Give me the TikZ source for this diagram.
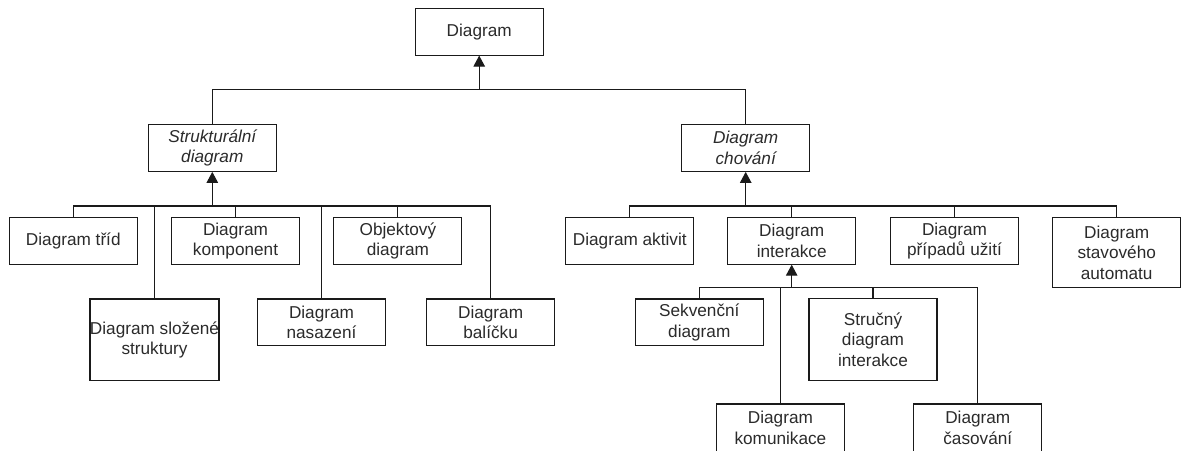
\documentclass[tikz,border=0pt]{standalone}
\usepackage{fontspec}
\setmainfont{Liberation Sans}
\usetikzlibrary{arrows.meta}
\definecolor{inkline}{HTML}{1A1A1A}
\definecolor{inktext}{HTML}{2B2B2B}
\begin{document}
\begin{tikzpicture}[x=1pt,y=-1pt,
  box/.style={draw=inkline,line width=1.1pt,fill=white,rectangle,
    minimum width=128pt,minimum height=46.7pt,inner sep=0pt,
    align=center,text=inktext,
    font=\fontsize{17.2}{20.4}\selectfont},
  tallbox/.style={box,minimum height=81.6pt},
  midbox/.style={box,minimum height=69.6pt},
  absbox/.style={box,font=\fontsize{17.2}{20.4}\selectfont\itshape},
  link/.style={draw=inkline,line width=1.1pt},
  gen/.style={link,-{Triangle[width=11.5pt,length=11pt]}}]
\useasboundingbox (0,0) rectangle (1181,450);

% root and the two abstract kinds
\node[box]    (root)   at (479.2,31.7) {Diagram};
\node[absbox] (struct) at (212.3,148)  {Strukturální\\diagram};
\node[absbox] (behav)  at (745.7,148)  {Diagram\\chování};

% structural diagrams
\node[box]     (tridy)     at (73.3,240.8)  {Diagram tříd};
\node[tallbox] (slozene)   at (154.5,339.8) {Diagram složené\\struktury};
\node[box]     (komponent) at (235.5,240.8) {Diagram\\komponent};
\node[box]     (nasazeni)  at (321.5,322.3) {Diagram\\nasazení};
\node[box]     (objekt)    at (397.9,240.8) {Objektový\\diagram};
\node[box]     (balicku)   at (490.6,322.3) {Diagram\\balíčku};

% behavioural diagrams
\node[box]    (aktivit)   at (629.8,240.8)  {Diagram aktivit};
\node[box]    (interakce) at (791.7,240.8)  {Diagram\\interakce};
\node[box]    (pripady)   at (954.5,240.8)  {Diagram\\případů užití};
\node[midbox] (stavovy)   at (1116.7,252.5) {Diagram\\stavového\\automatu};

% interaction diagrams
\node[box]     (sekvencni)  at (699.3,322.3) {Sekvenční\\diagram};
\node[box,minimum height=48pt] (komunikace) at (780.4,428) {Diagram\\komunikace};
\node[tallbox] (strucny)    at (873,339.7)   {Stručný\\diagram\\interakce};
\node[box,minimum height=48pt] (casovani)   at (977.8,428) {Diagram\\časování};

% junction points of the buses
\coordinate (jtop) at (479.2,89.3);
\coordinate (jst)  at (212.3,206);
\coordinate (jbe)  at (745.7,206);
\coordinate (jin)  at (791.7,287.3);

% top level
\draw[gen] (jtop) -- (root.south);
\draw[link] (struct.north) |- (jtop) -| (behav.north);

% structural bus
\draw[gen] (jst) -- (struct.south);
\draw[link] (tridy.north) |- (jst) -| (balicku.north);
\draw[link] (slozene.north)   -- (slozene.north |- jst);
\draw[link] (komponent.north) -- (komponent.north |- jst);
\draw[link] (nasazeni.north)  -- (nasazeni.north |- jst);
\draw[link] (objekt.north)    -- (objekt.north |- jst);

% behavioural bus
\draw[gen] (jbe) -- (behav.south);
\draw[link] (aktivit.north) |- (jbe) -| (stavovy.north);
\draw[link] (interakce.north) -- (interakce.north |- jbe);
\draw[link] (pripady.north)   -- (pripady.north |- jbe);

% interaction bus
\draw[gen] (jin) -- (interakce.south);
\draw[link] (sekvencni.north) |- (jin) -| (casovani.north);
\draw[link] (komunikace.north) -- (komunikace.north |- jin);
\draw[link] (strucny.north)    -- (strucny.north |- jin);
\end{tikzpicture}
\end{document}
